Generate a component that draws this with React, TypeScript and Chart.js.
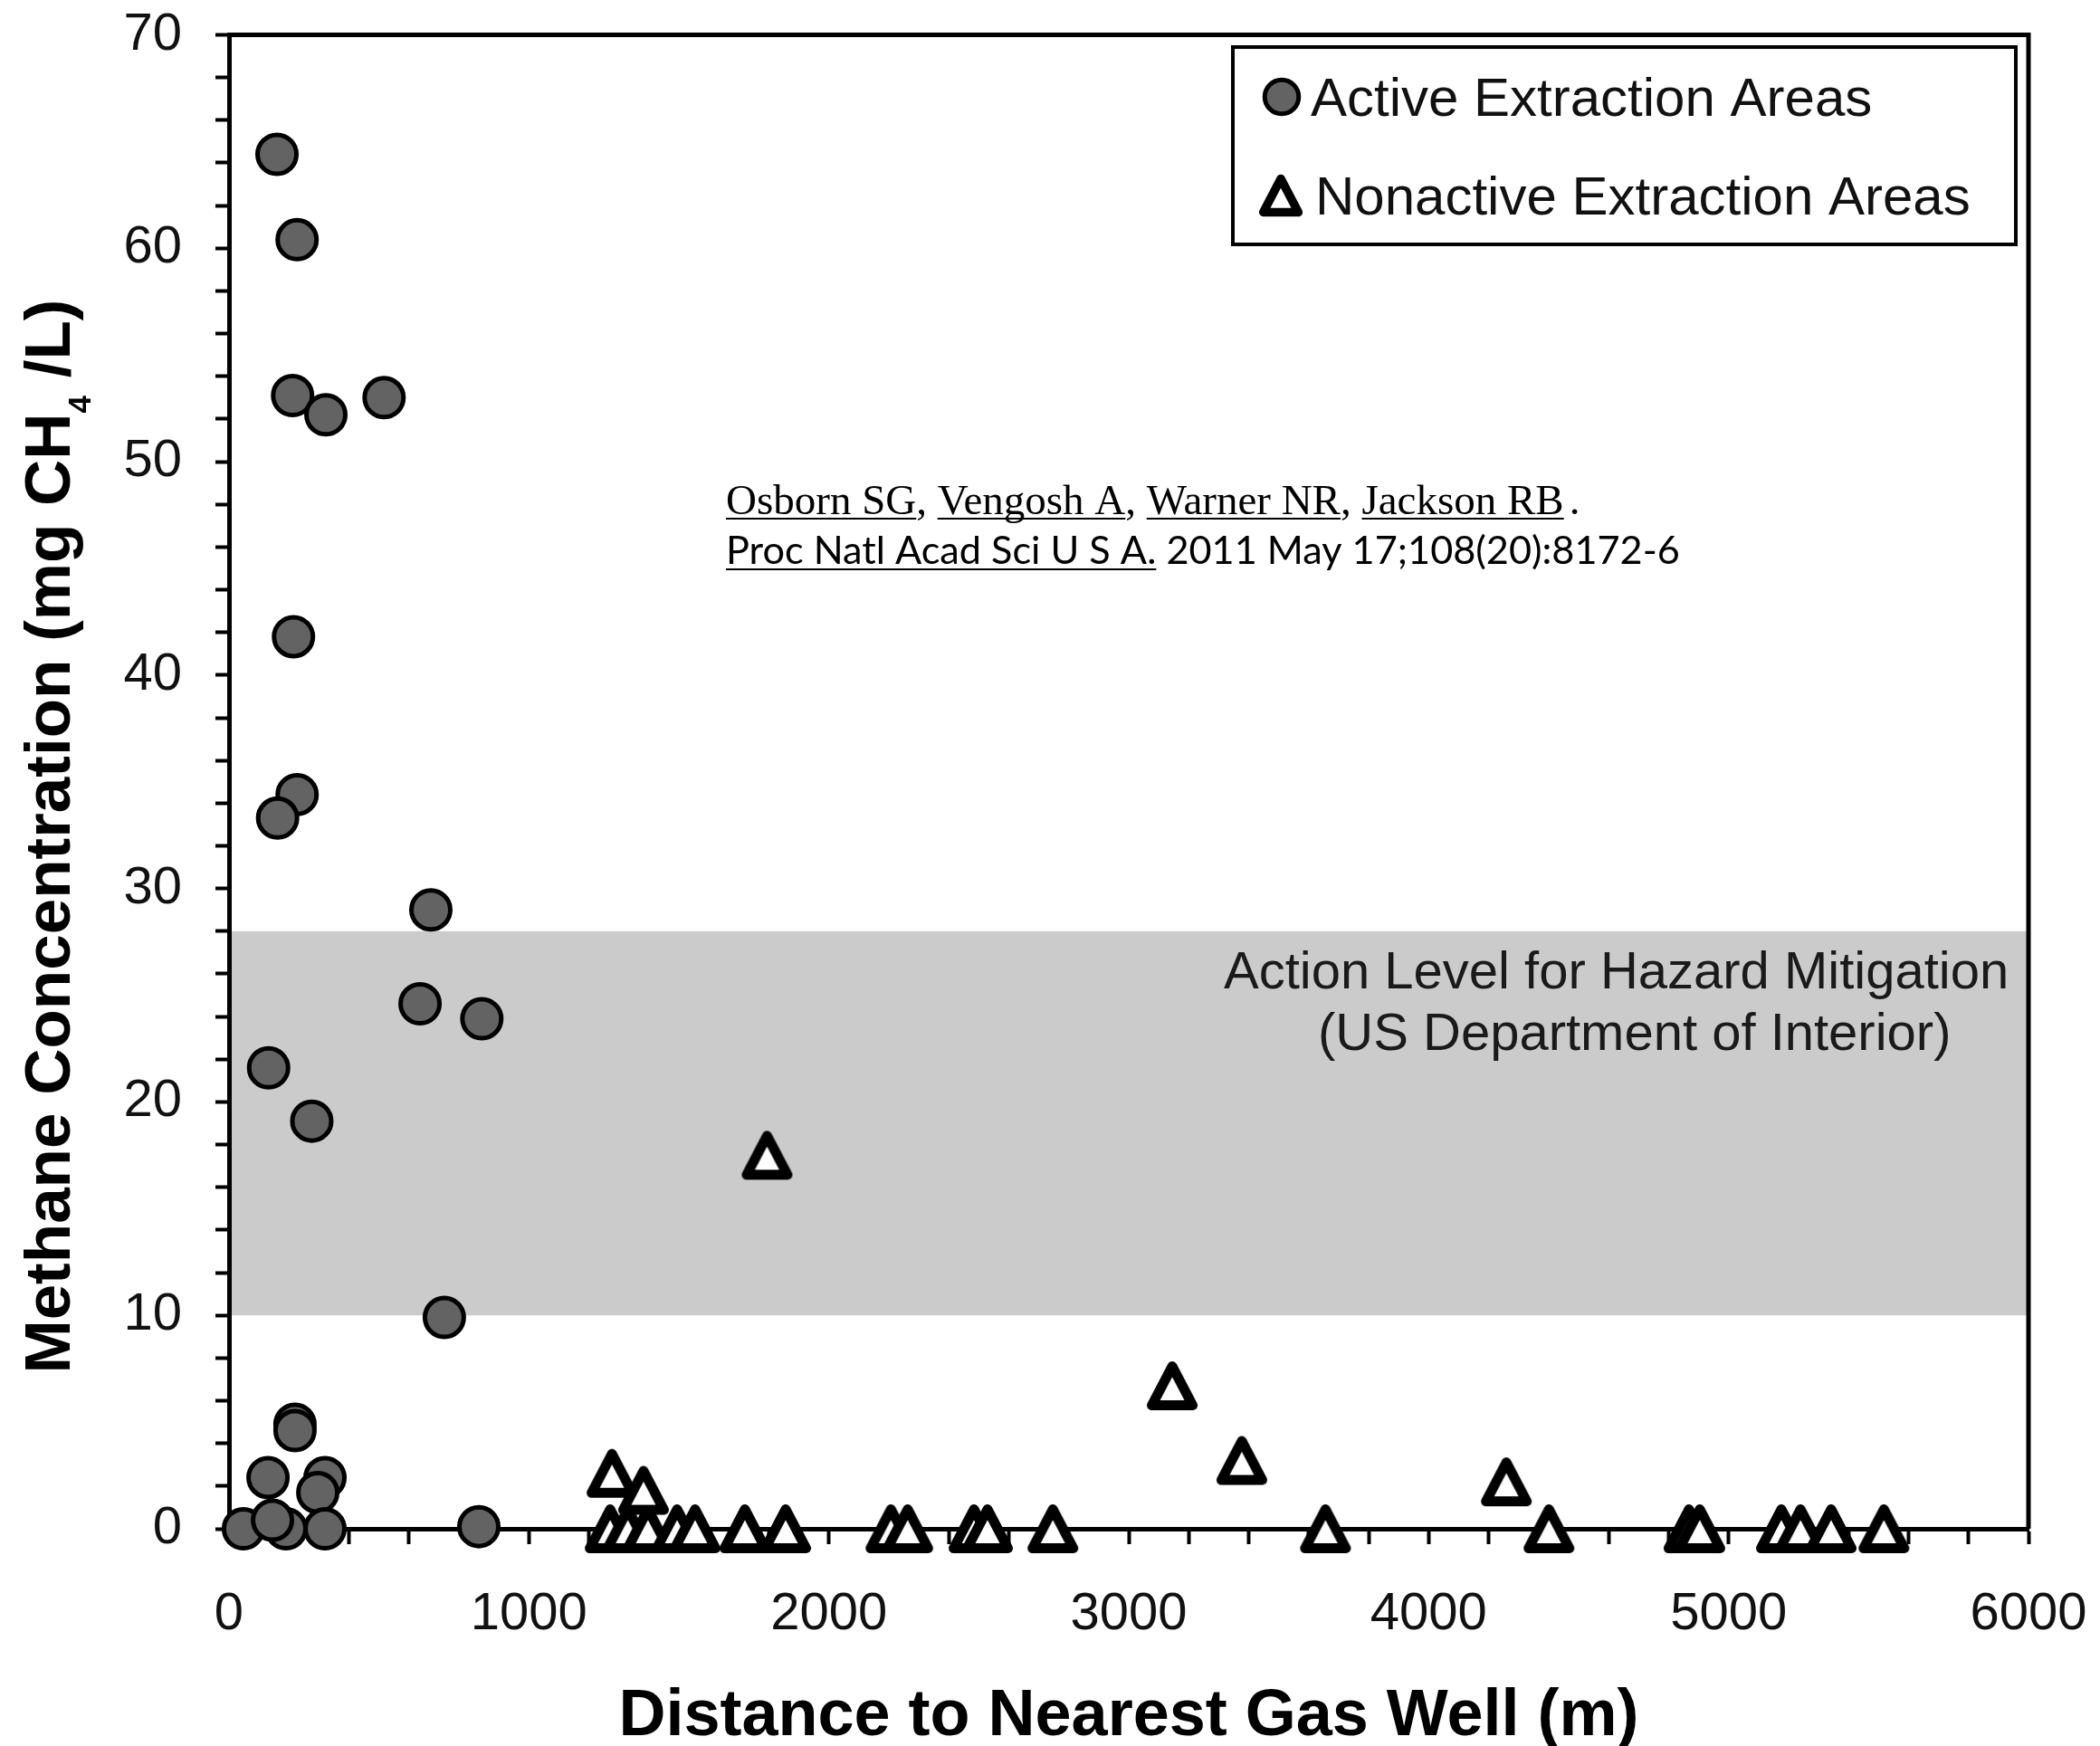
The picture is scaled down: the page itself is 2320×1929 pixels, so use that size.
import React, { useEffect, useRef } from 'react';
import { Chart, registerables } from 'chart.js';

Chart.register(...registerables);

// ---------- data ----------
const ACTIVE_DISTANCE = [160, 227, 212, 323, 517, 215, 227, 162, 673, 637, 843, 132, 276, 718, 220, 220, 130, 320, 296, 48, 190, 145, 320, 833];
const ACTIVE_METHANE = [64.4, 60.4, 53.1, 52.2, 53.0, 41.8, 34.4, 33.3, 29.0, 24.6, 23.9, 21.6, 19.1, 9.9, 4.9, 4.6, 2.4, 2.4, 1.7, 0, 0, 0.4, 0, 0.1];

const NONACTIVE_DISTANCE = [1271, 1330, 1397, 1494, 1554, 1277, 1382, 1720, 1856, 1794, 2207, 2263, 2484, 2529, 2747, 3145, 3377, 3656, 4259, 4401, 4868, 4904, 5176, 5240, 5342, 5518];
const NONACTIVE_METHANE = [0, 0, 0, 0, 0, 2.6, 1.8, 0, 0, 17.5, 0, 0, 0, 0, 0, 6.7, 3.2, 0, 2.2, 0, 0, 0, 0, 0, 0, 0];

const X_TICK_LABELS = [0, 1000, 2000, 3000, 4000, 5000, 6000];
const Y_TICK_LABELS = [0, 10, 20, 30, 40, 50, 60, 70];
const X_MINOR_STEP = 200;
const Y_MINOR_STEP = 2;

const ACTION_LEVEL_LOW = 10;
const ACTION_LEVEL_HIGH = 28;

const SERIES_LABELS = ['Active Extraction Areas', 'Nonactive Extraction Areas'];
const X_TITLE = 'Distance to Nearest Gas Well (m)';
const Y_TITLE_MAIN = 'Methane Concentration (mg CH';
const Y_TITLE_SUB = '4';
const Y_TITLE_END = ' /L)';
const BAND_LINES = ['Action Level for Hazard Mitigation', '(US Department of Interior)'];
const CITATION_AUTHORS = ['Osborn SG', 'Vengosh A', 'Warner NR', 'Jackson RB'];
const CITATION_JOURNAL = 'Proc Natl Acad Sci U S A.';
const CITATION_DETAILS = ' 2011 May 17;108(20):8172-6';

// ---------- styles ----------
const SANS = '"Liberation Sans", Arial, Helvetica, sans-serif';
const SERIF = '"Liberation Serif", "Times New Roman", serif';
const HUMANIST = 'Lato, "Open Sans", sans-serif';
const CIRCLE_FILL = '#636363';
const BAND_FILL = '#cbcbcb';
const TEXT = '#111111';

function makeTriangle(scale: number): HTMLCanvasElement {
  const W = 56 * scale;
  const H = 54 * scale;
  const lw = 11 * scale;
  const c = document.createElement('canvas');
  c.width = Math.ceil(W / 2) * 2 + 2;
  c.height = Math.ceil(H / 2) * 2 + 2;
  const g = c.getContext('2d') as CanvasRenderingContext2D;
  const cx = c.width / 2;
  const cy = c.height / 2;
  const hw = (W - lw) / 2;
  const hh = (H - lw) / 2;
  g.beginPath();
  g.moveTo(cx, cy - hh);
  g.lineTo(cx + hw, cy + hh);
  g.lineTo(cx - hw, cy + hh);
  g.closePath();
  g.fillStyle = '#ffffff';
  g.fill();
  g.lineJoin = 'round';
  g.lineWidth = lw;
  g.strokeStyle = '#000000';
  g.stroke();
  return c;
}

export default function App() {
  const ref = useRef<HTMLCanvasElement | null>(null);

  useEffect(() => {
    document.body.style.margin = '0';
    const canvas = ref.current;
    if (!canvas) return;

    const triangle = makeTriangle(1);
    const legendTriangle = makeTriangle(0.86);

    const backgroundPlugin = {
      id: 'backgroundBand',
      beforeDraw(chart: any) {
        const { ctx, chartArea: a, scales } = chart;
        const y = scales.y;
        ctx.save();
        ctx.fillStyle = '#ffffff';
        ctx.fillRect(0, 0, chart.width, chart.height);
        const top = y.getPixelForValue(ACTION_LEVEL_HIGH);
        const bottom = y.getPixelForValue(ACTION_LEVEL_LOW);
        ctx.fillStyle = BAND_FILL;
        ctx.fillRect(a.left, top, a.right - a.left, bottom - top);

        ctx.fillStyle = '#1a1a1a';
        ctx.font = `58px ${SANS}`;
        ctx.textAlign = 'left';
        ctx.textBaseline = 'alphabetic';
        ctx.fillText(BAND_LINES[0], 1352, 1092);
        ctx.fillText(BAND_LINES[1], 1456, 1160);

        ctx.strokeStyle = '#000000';
        ctx.lineWidth = 5;
        ctx.beginPath();
        ctx.moveTo(a.left, a.top);
        ctx.lineTo(a.right, a.top);
        ctx.lineTo(a.right, a.bottom);
        ctx.stroke();
        ctx.restore();
      },
    };

    const annotationPlugin = {
      id: 'annotations',
      afterDraw(chart: any) {
        const { ctx, chartArea: a } = chart;
        ctx.save();
        ctx.fillStyle = '#000000';
        ctx.textBaseline = 'alphabetic';

        // x title
        ctx.font = `bold 72px ${SANS}`;
        ctx.textAlign = 'center';
        ctx.fillText(X_TITLE, (a.left + a.right) / 2, 1917);

        // y title with subscript
        ctx.save();
        ctx.translate(77, 924);
        ctx.rotate(-Math.PI / 2);
        ctx.textAlign = 'left';
        const mainFont = `bold 71px ${SANS}`;
        const subFont = `bold 35px ${SANS}`;
        ctx.font = mainFont;
        const w1 = ctx.measureText(Y_TITLE_MAIN).width;
        const w3 = ctx.measureText(Y_TITLE_END).width;
        ctx.font = subFont;
        const w2 = ctx.measureText(Y_TITLE_SUB).width;
        let x = -(w1 + w2 + w3) / 2;
        ctx.font = mainFont;
        ctx.fillText(Y_TITLE_MAIN, x, 0);
        x += w1;
        ctx.font = subFont;
        ctx.fillText(Y_TITLE_SUB, x, 23);
        x += w2;
        ctx.font = mainFont;
        ctx.fillText(Y_TITLE_END, x, 0);
        ctx.restore();

        // legend
        const ds = chart.data.datasets;
        ctx.lineWidth = 4;
        ctx.strokeStyle = '#000000';
        ctx.fillStyle = '#ffffff';
        ctx.fillRect(1362, 52, 865, 218);
        ctx.strokeRect(1362, 52, 865, 218);
        ctx.beginPath();
        ctx.arc(1416, 107, 18.75, 0, Math.PI * 2);
        ctx.fillStyle = CIRCLE_FILL;
        ctx.fill();
        ctx.lineWidth = 5;
        ctx.stroke();
        ctx.drawImage(legendTriangle, 1415 - legendTriangle.width / 2, 216 - legendTriangle.height / 2);
        ctx.fillStyle = TEXT;
        ctx.font = `60px ${SANS}`;
        ctx.textAlign = 'left';
        ctx.fillText(ds[0].label, 1448, 128);
        ctx.fillText(ds[1].label, 1453, 237);

        // citation line 1
        ctx.fillStyle = '#000000';
        ctx.font = `47px ${SERIF}`;
        let cx = 802;
        const y1 = 568;
        CITATION_AUTHORS.forEach((name, i) => {
          const w = ctx.measureText(name).width;
          ctx.fillText(name, cx, y1);
          ctx.fillRect(cx, y1 + 4, w, 2);
          cx += w;
          const sep = i < CITATION_AUTHORS.length - 1 ? ', ' : '.';
          ctx.fillText(sep, cx + (i < CITATION_AUTHORS.length - 1 ? 0 : 6), y1);
          cx += ctx.measureText(sep).width;
        });

        // citation line 2
        ctx.font = `40px ${HUMANIST}`;
        const full = ctx.measureText(CITATION_JOURNAL + CITATION_DETAILS).width;
        const size = (40 * 1054) / full;
        ctx.font = `${size.toFixed(2)}px ${HUMANIST}`;
        const y2 = 623;
        const wj = ctx.measureText(CITATION_JOURNAL).width;
        ctx.fillText(CITATION_JOURNAL, 802, y2);
        ctx.fillRect(802, y2 + 5, wj, 2);
        ctx.fillText(CITATION_DETAILS, 802 + wj, y2);
        ctx.restore();
      },
    };

    const activePoints = ACTIVE_DISTANCE.map((d, i) => ({ x: d, y: ACTIVE_METHANE[i] }));
    const nonactivePoints = NONACTIVE_DISTANCE.map((d, i) => ({ x: d, y: NONACTIVE_METHANE[i] }));

    const chart = new Chart(canvas, {
      type: 'scatter',
      data: {
        datasets: [
          {
            label: SERIES_LABELS[0],
            data: activePoints,
            pointStyle: 'circle',
            pointRadius: 21.5,
            pointBorderWidth: 5,
            pointBackgroundColor: CIRCLE_FILL,
            pointBorderColor: '#000000',
            clip: false,
          } as any,
          {
            label: SERIES_LABELS[1],
            data: nonactivePoints,
            pointStyle: triangle,
            pointRadius: 27,
            pointBorderWidth: 0,
            clip: false,
          } as any,
        ],
      },
      options: {
        responsive: false,
        animation: false,
        devicePixelRatio: 1,
        events: [],
        layout: { padding: { top: 38.5, right: 79, left: 0, bottom: 0 } },
        plugins: {
          legend: { display: false },
          tooltip: { enabled: false },
          title: { display: false },
        },
        scales: {
          x: {
            type: 'linear',
            position: 'bottom',
            min: 0,
            max: 6000,
            afterFit: (s: any) => {
              s.height = 240;
              s.paddingLeft = 0;
              s.paddingRight = 0;
            },
            ticks: {
              stepSize: X_MINOR_STEP,
              autoSkip: false,
              maxRotation: 0,
              minRotation: 0,
              padding: 43,
              color: TEXT,
              font: { family: SANS, size: 58 },
              callback: (v: any) => (X_TICK_LABELS.includes(Math.round(Number(v))) ? String(Math.round(Number(v))) : ''),
            },
            grid: {
              drawOnChartArea: false,
              drawTicks: true,
              tickLength: 17,
              tickWidth: 4,
              tickColor: '#000000',
            },
            border: { display: true, color: '#000000', width: 5 },
          },
          y: {
            type: 'linear',
            position: 'left',
            min: 0,
            max: 70,
            afterFit: (s: any) => {
              s.width = 253;
              s.paddingTop = 0;
              s.paddingBottom = 0;
            },
            ticks: {
              stepSize: Y_MINOR_STEP,
              autoSkip: false,
              padding: 37,
              color: TEXT,
              font: { family: SANS, size: 58 },
              callback: (v: any) => (Y_TICK_LABELS.includes(Math.round(Number(v))) ? String(Math.round(Number(v))) : ''),
            },
            grid: {
              drawOnChartArea: false,
              drawTicks: true,
              tickLength: 15,
              tickWidth: 4,
              tickColor: '#000000',
            },
            border: { display: true, color: '#000000', width: 5 },
          },
        },
      } as any,
      plugins: [backgroundPlugin, annotationPlugin],
    });

    return () => {
      chart.destroy();
    };
  }, []);

  return (
    <canvas
      ref={ref}
      width={2320}
      height={1929}
      style={{ display: 'block', width: '2320px', height: '1929px' }}
    />
  );
}
